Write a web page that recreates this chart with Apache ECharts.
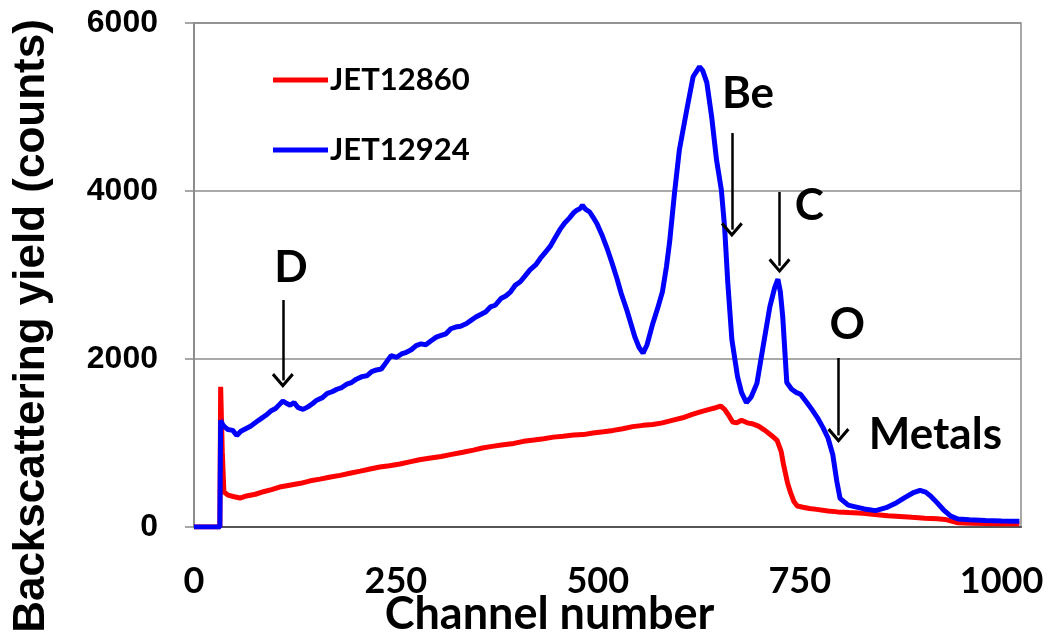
<!DOCTYPE html>
<html>
<head>
<meta charset="utf-8">
<script src="https://cdn.jsdelivr.net/npm/echarts@6/dist/echarts.min.js"></script>
<style>
html,body{margin:0;padding:0;background:#fff;}
#chart{width:1053px;height:644px;}
</style>
</head>
<body>
<div id="chart"></div>
<script>
// ---- data ----
var seriesNames = ['JET12860', 'JET12924'];
var xTicks = [0, 250, 500, 750, 1000];
var xMax = 1024;
var yTicks = [0, 2000, 4000, 6000];

var redChannels = [0,32,33,35,37,42,50,57,65,76,86,96,106,120,132,144,156,169,181,193,206,218,230,242,255,267,279,293,306,319,333,346,357,369,383,396,408,421,433,445,457,470,482,494,507,519,531,543,556,568,580,592,605,617,627,638,646,652,657,662,667,672,678,685,691,699,707,715,722,727,730,735,739,743,747,754,762,771,785,797,811,828,843,859,874,889,905,920,930,938,946,961,981,1002,1022];
var redCounts = [0,0,1670,900,420,380,360,345,370,390,420,445,476,500,520,550,570,595,615,640,665,690,714,730,750,775,800,821,840,865,890,915,940,960,980,995,1020,1035,1050,1070,1080,1095,1100,1120,1135,1150,1170,1195,1210,1220,1240,1270,1300,1340,1370,1400,1420,1440,1400,1330,1250,1240,1270,1240,1230,1200,1150,1090,1030,900,740,520,400,300,250,235,220,210,190,180,172,165,150,135,125,115,105,98,90,70,50,45,43,40,38];

var blueChannels = [0,32,33,36,42,48,53,58,64,70,77,83,89,95,101,106,110,115,119,124,129,135,141,147,152,159,165,171,177,183,189,195,201,208,214,220,226,232,238,244,251,257,263,269,275,281,287,294,300,306,312,318,324,330,337,343,349,355,361,367,373,380,386,392,398,404,410,416,423,429,435,441,447,453,459,465,470,474,478,481,485,490,494,499,505,511,517,523,529,536,541,546,551,556,561,568,574,580,585,589,595,601,610,618,626,630,635,641,647,653,657,661,666,673,678,684,690,697,704,713,719,723,726,729,734,740,746,751,759,765,772,779,785,791,796,800,810,819,830,844,857,870,880,890,899,906,912,920,928,937,946,960,980,1000,1022];
var blueCounts = [0,0,1270,1210,1160,1150,1090,1140,1170,1200,1250,1290,1330,1380,1410,1460,1500,1470,1450,1480,1420,1400,1430,1470,1510,1540,1590,1610,1640,1660,1700,1720,1760,1790,1800,1850,1870,1880,1960,2040,2020,2060,2080,2110,2160,2180,2170,2220,2260,2280,2300,2360,2380,2390,2420,2460,2500,2530,2560,2620,2640,2720,2750,2800,2880,2920,2990,3060,3120,3200,3270,3340,3440,3540,3620,3680,3740,3770,3790,3830,3780,3750,3690,3610,3480,3330,3160,2980,2780,2580,2420,2260,2140,2070,2170,2420,2600,2800,3100,3400,3980,4490,4960,5360,5480,5430,5290,4880,4370,4010,3570,2900,2230,1790,1600,1480,1550,1710,2110,2620,2850,2950,2800,2500,1720,1640,1600,1580,1480,1400,1300,1180,1060,860,540,340,260,240,215,195,230,290,350,405,435,415,370,290,205,130,95,85,78,72,68];

// annotation texts and arrows (channel, counts)
var labelTexts = ['D', 'Be', 'C', 'O', 'Metals'];
var labelChannels = [120, 686, 762, 809, 918];
var labelCounts = [3083, 5161, 3821, 2405, 1095];
var arrowChannels = [110, 666, 725, 798];
var arrowTopCounts = [2702, 4690, 3988, 2012];
var arrowTipCounts = [1745, 3540, 3110, 1090];

function pairs(xs, ys) { return xs.map(function (x, i) { return [x, ys[i]]; }); }

var chart = echarts.init(document.getElementById('chart'), null, {renderer: 'canvas'});

var arrowHead = 'path://M10,0 L20,11 L18,13 L10,4 L2,13 L0,11 Z';

var option = {
  animation: false,
  backgroundColor: '#ffffff',
  grid: {left: 194, right: 32, top: 23, bottom: 117, containLabel: false, outerBoundsMode: 'none',
         show: true, borderColor: '#8c8c8c', borderWidth: 1.5},
  legend: {
    data: seriesNames,
    orient: 'vertical',
    left: 268,
    top: 57,
    itemWidth: 55,
    itemHeight: 5,
    itemGap: 34,
    icon: 'rect',
    textStyle: {fontFamily: 'Lato', fontWeight: 'bold', fontSize: 31, color: '#000', lineHeight: 36, padding: [0,0,0,-3]}
  },
  xAxis: {
    type: 'value', min: xTicks[0], max: xMax, interval: xTicks[1] - xTicks[0],
    name: 'Channel number', nameLocation: 'middle', nameGap: 65, nameMoveOverlap: false,
    nameTextStyle: {fontFamily: 'Lato', fontWeight: 'bold', fontSize: 45, color: '#000', padding: [0, 116, 0, 0]},
    axisLine: {lineStyle: {color: '#555', width: 2}},
    axisTick: {show: false},
    splitLine: {show: false},
    axisLabel: {fontFamily: 'Lato', fontWeight: 'bold', fontSize: 36, color: '#000', margin: 36,
                showMaxLabel: false,
                formatter: function (v) { return xTicks.indexOf(v) >= 0 ? String(v) : ''; }}
  },
  yAxis: {
    type: 'value', min: yTicks[0], max: yTicks[yTicks.length - 1], interval: yTicks[1] - yTicks[0],
    name: 'Backscattering yield (counts)', nameLocation: 'middle', nameGap: 140, nameRotate: 90, nameMoveOverlap: false,
    nameTextStyle: {fontFamily: 'Liberation Sans', fontWeight: 'bold', fontSize: 44, color: '#000', padding: [0, 102, 0, 0]},
    axisLine: {show: true, lineStyle: {color: '#8c8c8c', width: 2}},
    axisTick: {show: true, inside: false, length: 9, lineStyle: {color: '#8c8c8c', width: 1.5}},
    splitLine: {show: true, lineStyle: {color: '#8c8c8c', width: 1.5}},
    axisLabel: {fontFamily: 'Liberation Sans', fontWeight: 'bold', fontSize: 32, color: '#000', margin: 36,
                formatter: function (v) { return String(v); }}
  },
  series: [
    {
      name: seriesNames[0], type: 'line', data: pairs(redChannels, redCounts),
      showSymbol: false, symbol: 'none', color: '#ff0000',
      lineStyle: {color: '#ff0000', width: 5}
    },
    {
      name: seriesNames[1], type: 'line', data: pairs(blueChannels, blueCounts),
      showSymbol: false, symbol: 'none', color: '#0000ff',
      lineStyle: {color: '#0000ff', width: 5},
      markLine: {
        silent: true, animation: false,
        symbol: ['none', arrowHead], symbolSize: [22, 15],
        label: {show: false},
        lineStyle: {color: '#000', width: 2.5, type: 'solid'},
        emphasis: {disabled: true},
        data: arrowChannels.map(function (c, i) {
          return [{coord: [c, arrowTopCounts[i]]}, {coord: [c, arrowTipCounts[i]]}];
        })
      },
      markPoint: {
        silent: true, animation: false,
        symbol: 'rect', symbolSize: 1,
        itemStyle: {color: 'rgba(0,0,0,0)'},
        label: {show: true, position: 'inside', formatter: '{b}', fontFamily: 'Lato', fontWeight: 'bold', fontSize: 44, color: '#000'},
        data: labelTexts.map(function (t, i) {
          return {name: t, coord: [labelChannels[i], labelCounts[i]]};
        })
      }
    }
  ]
};
chart.setOption(option);
</script>
</body>
</html>
